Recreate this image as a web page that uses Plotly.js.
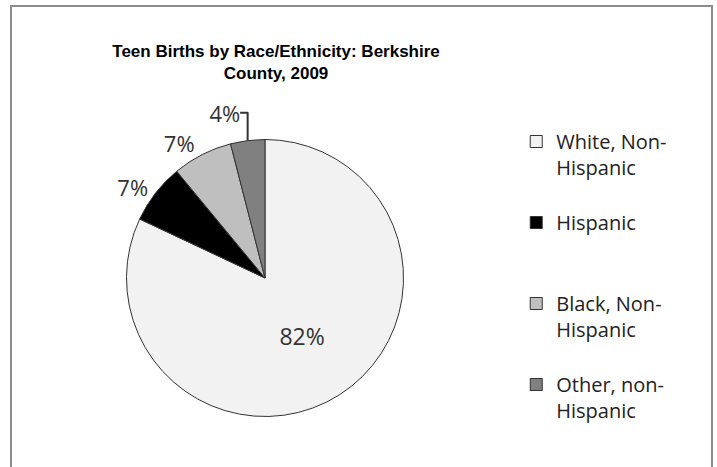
<!DOCTYPE html>
<html>
<head>
<meta charset="utf-8">
<script src="https://cdn.plot.ly/plotly-3.0.1.min.js"></script>
<style>html,body{margin:0;padding:0;background:#fff;}#chart{width:717px;height:467px;}</style>
</head>
<body>
<div id="chart"></div>
<script>
const categories = ["White, Non-<br>Hispanic<br>\u00a0", "Hispanic<br>\u00a0<br>\u00a0", "Black, Non-<br>Hispanic<br>\u00a0", "Other, non-<br>Hispanic"];
const values = [82, 7, 7, 4];
const sliceColors = ["#f2f2f2", "#000000", "#bfbfbf", "#808080"];
const textPositions = ["inside", "outside", "outside", "outside"];

const trace = {
  type: "pie",
  labels: categories,
  values: values,
  sort: false,
  direction: "clockwise",
  rotation: 0,
  marker: {colors: sliceColors, line: {color: "#333333", width: 1}},
  textinfo: "percent",
  textposition: textPositions,
  textfont: {family: "Open Sans", size: 22, color: "#333333"},
  insidetextfont: {family: "Open Sans", size: 23, color: "#333333"},
  outsidetextfont: {family: "Open Sans", size: 22, color: "#333333"},
  domain: {x: [0.1764, 0.5628], y: [0.1081, 0.7013]},
  hoverinfo: "label+percent"
};

const layout = {
  width: 717, height: 467,
  margin: {l: 0, r: 0, t: 0, b: 0},
  paper_bgcolor: "#ffffff",
  title: {
    text: "Teen Births by Race/Ethnicity: Berkshire<br>County, 2009",
    font: {family: "Liberation Sans", size: 17, color: "#000000", weight: "bold"},
    x: 0.385, xanchor: "center", xref: "paper",
    y: 1 - 57/467, yanchor: "top", yref: "container"
  },
  showlegend: true,
  legend: {
    x: 0.72, xanchor: "left", y: 1 - 122/467, yanchor: "top",
    valign: "top",
    font: {family: "Open Sans", size: 20, color: "#222222"},
    bgcolor: "rgba(0,0,0,0)"
  },
  shapes: [{
    type: "rect", xref: "paper", yref: "paper",
    x0: 11/717, x1: 712/717, y0: -0.05, y1: 1 - 6/467,
    line: {color: "#8c8c8c", width: 2}, fillcolor: "rgba(0,0,0,0)", layer: "below"
  }]
};

Plotly.newPlot("chart", [trace], layout, {displayModeBar: false, staticPlot: true});
</script>
</body>
</html>
